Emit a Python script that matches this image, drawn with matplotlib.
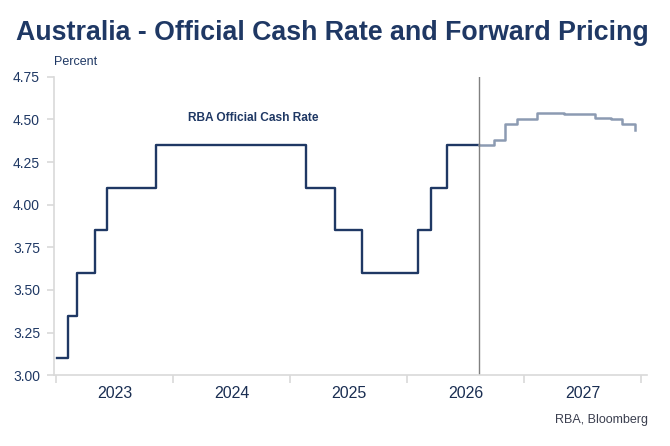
import matplotlib
matplotlib.use("Agg")
import matplotlib.pyplot as plt
import pandas as pd

plt.rcParams['font.family'] = ['Liberation Sans', 'DejaVu Sans']

## RBA official cash rate: date of change and new level
cash_dates = ['2023-01-03', '2023-02-07', '2023-03-07', '2023-05-02', '2023-06-07',
              '2023-11-07', '2025-02-18', '2025-05-20', '2025-08-12', '2026-02-03',
              '2026-03-17', '2026-05-05', '2026-08-14']
cash_rate = [3.10, 3.35, 3.60, 3.85, 4.10, 4.35, 4.10, 3.85, 3.60, 3.85, 4.10, 4.35, 4.35]

## forward pricing (market implied path)
fwd_dates = ['2026-08-14', '2026-09-29', '2026-11-03', '2026-12-08', '2027-02-09',
             '2027-05-04', '2027-08-10', '2027-09-28', '2027-11-02', '2027-12-13',
             '2027-12-14']
fwd_rate = [4.35, 4.38, 4.47, 4.50, 4.54, 4.53, 4.51, 4.50, 4.47, 4.47, 4.44]

today = '2026-08-14'
years = [2023, 2024, 2025, 2026, 2027]
y_ticks = [3.00, 3.25, 3.50, 3.75, 4.00, 4.25, 4.50, 4.75]

navy = '#1f3864'
grey_axis = '#d9d9d9'

cash_x = pd.to_datetime(cash_dates)
fwd_x = pd.to_datetime(fwd_dates)

fig = plt.figure(figsize=(6.7, 4.46), dpi=100)
ax = fig.add_axes([0.0806, 0.1585, 0.885, 0.6695])

ax.step(cash_x, cash_rate, where='post', color=navy, linewidth=1.7)
ax.step(fwd_x, fwd_rate, where='post', color='#8c9bb2', linewidth=1.8)
ax.axvline(pd.Timestamp(today), color='#808080', linewidth=1)

ax.set_ylim(3.0, 4.75)
ax.set_yticks(y_ticks)
ax.set_yticklabels([f'{v:.2f}' for v in y_ticks])
ax.set_xlim(pd.Timestamp('2022-12-25'), pd.Timestamp('2028-01-19'))

## year boundaries as tick marks, labels in the middle of each year
ax.set_xticks([pd.Timestamp(f'{y}-01-01') for y in years + [2028]])
ax.set_xticklabels([])
ax.set_xticks([pd.Timestamp(f'{y}-07-02') for y in years], minor=True)
ax.set_xticklabels([str(y) for y in years], minor=True)
ax.tick_params(axis='x', which='major', length=6, width=1.2, color=grey_axis, direction='out')
ax.tick_params(axis='x', which='minor', length=0, pad=8, labelsize=11.5, labelcolor='#1a2e52')
ax.tick_params(axis='y', length=5, width=1.2, color=grey_axis, labelsize=10, labelcolor=navy, pad=5)

for side in ['top', 'right']:
    ax.spines[side].set_visible(False)
for side in ['left', 'bottom']:
    ax.spines[side].set_color(grey_axis)
    ax.spines[side].set_linewidth(1.2)

fig.text(0.024, 0.910, 'Australia - Official Cash Rate and Forward Pricing', fontsize=19.3,
         fontweight='bold', color=navy, ha='left', va='baseline')
fig.text(0.080, 0.854, 'Percent', fontsize=9, color=navy, ha='left', va='baseline')
ax.text(pd.Timestamp('2024-09-08'), 4.49, 'RBA Official Cash Rate', fontsize=8.6,
        fontweight='bold', color=navy, ha='center', va='baseline')
fig.text(0.967, 0.052, 'RBA, Bloomberg', fontsize=9, color='#3b3f4f', ha='right', va='baseline')

fig.savefig('out.png', dpi=100)
